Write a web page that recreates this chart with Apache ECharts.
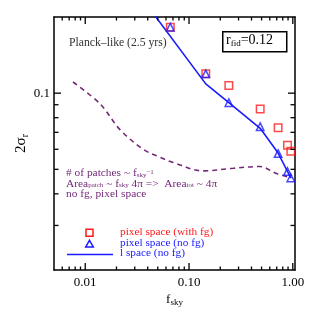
<!DOCTYPE html>
<html><head><meta charset="utf-8">
<script src="https://cdn.jsdelivr.net/npm/echarts@6/dist/echarts.min.js"></script>
<style>html,body{margin:0;padding:0;background:#fff}#c{width:312px;height:312px}</style>
</head><body><div id="c"></div>
<script>
// ---- data ----
const fsky      = [0.066, 0.145, 0.242, 0.485, 0.722, 0.889, 0.957];
const pixWithFg = [0.1823, 0.1192, 0.1071, 0.0866, 0.0730, 0.0623, 0.0590];
const pixNoFg   = [0.1823, 0.1192, 0.0917, 0.0737, 0.0577, 0.0490, 0.0462];
const lspaceF   = [0.040, 0.145, 0.242, 0.485, 0.722, 0.957];
const lspaceV   = [0.221, 0.1088, 0.0917, 0.0726, 0.0580, 0.0462];
const patchF    = [0.00762, 0.01394, 0.0217, 0.0364, 0.0489, 0.0706, 0.1372, 0.2667, 0.482, 0.697, 0.972];
const patchV    = [0.1107, 0.0906, 0.0716, 0.0599, 0.0565, 0.0532, 0.0493, 0.0505, 0.0513, 0.0481, 0.0463];
const xMajor = [0.01, 0.1, 1];
const xMinor = [0.006,0.007,0.008,0.009,0.02,0.03,0.04,0.05,0.06,0.07,0.08,0.09,0.2,0.3,0.4,0.5,0.6,0.7,0.8,0.9];
const yMajor = [0.1];
const yMinor = [0.03,0.04,0.05,0.06,0.07,0.08,0.09];
const seriesNames = ['pixel space (with fg)', 'pixel space (no fg)', 'l space (no fg)'];

const FONT = 'Liberation Serif';
const RED = '#ff1a1a', BLUE = '#1a1aff', PURPLE = '#742878';
const X_MIN = 0.005, X_MAX = 1.05, Y_MIN = 0.02, Y_MAX = 0.2;
const zip = (a, b) => a.map((v, i) => [v, b[i]]);

const xAxis = {
  type: 'log', logBase: 10, min: X_MIN, max: X_MAX, position: 'bottom',
  axisLine: {show: true, onZero: false, lineStyle: {color: '#000', width: 1.5}},
  axisTick: {show: false},
  axisLabel: {show: true, customValues: xMajor, margin: 6, color: '#000', fontFamily: FONT, fontSize: 13,
    formatter: v => (+v).toFixed(2)},
  splitLine: {show: false},
  name: '{a|f}{s|sky}', nameLocation: 'middle', nameGap: 22, nameMoveOverlap: false,
  nameTextStyle: {fontFamily: FONT, color: '#000', rich: {
    a: {fontFamily: FONT, fontSize: 13, color: '#000', lineHeight: 15},
    s: {fontFamily: FONT, fontSize: 9, color: '#000', lineHeight: 9, verticalAlign: 'bottom'}}}
};
const yAxis = {
  type: 'log', logBase: 10, min: Y_MIN, max: Y_MAX, position: 'left',
  axisLine: {show: true, onZero: false, lineStyle: {color: '#000', width: 1.5}},
  axisTick: {show: false},
  axisLabel: {show: true, customValues: yMajor, margin: 4, padding: [4, 0, 0, 0], color: '#000', fontFamily: FONT, fontSize: 13,
    formatter: v => String(+(+v).toFixed(2))},
  splitLine: {show: false},
  name: '{a|2σ}{s|r}', nameLocation: 'middle', nameGap: 24, nameMoveOverlap: false,
  nameTextStyle: {fontFamily: FONT, color: '#000', rich: {
    a: {fontFamily: FONT, fontSize: 15, color: '#000', lineHeight: 17},
    s: {fontFamily: FONT, fontSize: 10, color: '#000', lineHeight: 10, verticalAlign: 'bottom'}}}
};
const xTop = {type: 'log', logBase: 10, min: X_MIN, max: X_MAX, position: 'top',
  axisLine: {show: true, onZero: false, lineStyle: {color: '#000', width: 1.5}},
  axisTick: {show: false}, axisLabel: {show: false}, splitLine: {show: false}};
const yRight = {type: 'log', logBase: 10, min: Y_MIN, max: Y_MAX, position: 'right',
  axisLine: {show: true, onZero: false, lineStyle: {color: '#000', width: 1.5}},
  axisTick: {show: false}, axisLabel: {show: false}, splitLine: {show: false}};

// tick marks placed through the axis scales, drawn as thin inward rect symbols
function xTickItems(vals, L) {
  const out = [];
  vals.forEach(v => {
    out.push({value: [v, Y_MIN], symbolSize: [1.3, L], symbolOffset: [0, -L / 2]});
    out.push({value: [v, Y_MAX], symbolSize: [1.3, L], symbolOffset: [0, L / 2]});
  });
  return out;
}
function yTickItems(vals, L) {
  const out = [];
  vals.forEach(v => {
    out.push({value: [X_MIN, v], symbolSize: [L, 1.3], symbolOffset: [L / 2, 0]});
    out.push({value: [X_MAX, v], symbolSize: [L, 1.3], symbolOffset: [-L / 2, 0]});
  });
  return out;
}
const tickData = xTickItems(xMajor, 7).concat(xTickItems(xMinor, 3.5), yTickItems(yMajor, 7), yTickItems(yMinor, 4.5));

const chart = echarts.init(document.getElementById('c'), null, {renderer: 'canvas'});
chart.setOption({
  backgroundColor: '#fff',
  animation: false,
  grid: {left: 54, right: 17, top: 17, bottom: 35.5, containLabel: false},
  xAxis: [xAxis, xTop],
  yAxis: [yAxis, yRight],
  series: [
    {name: 'ticks', type: 'scatter', data: tickData, symbol: 'rect', clip: false, silent: true,
      itemStyle: {color: '#000', opacity: 1}, z: 10},
    {name: 'patches', type: 'line', data: zip(patchF, patchV), smooth: 0.35, symbol: 'none',
      lineStyle: {color: PURPLE, width: 1.6, type: [5, 4]}, itemStyle: {color: PURPLE}, z: 2},
    {name: seriesNames[2], type: 'line', data: zip(lspaceF, lspaceV), symbol: 'none', clip: true,
      lineStyle: {color: BLUE, width: 1.6}, itemStyle: {color: BLUE}, z: 3},
    {name: seriesNames[0], type: 'scatter', data: zip(fsky, pixWithFg), symbol: 'rect', symbolSize: 7.5,
      itemStyle: {color: 'transparent', borderColor: RED, borderWidth: 1.5}, z: 4},
    {name: seriesNames[1], type: 'scatter', data: zip(fsky, pixNoFg), symbol: 'triangle', symbolSize: 7.5,
      itemStyle: {color: 'transparent', borderColor: BLUE, borderWidth: 1.5}, z: 5}
  ],
  graphic: [
    {type: 'text', left: 69, top: 36.5, style: {text: 'Planck–like (2.5 yrs)', fill: '#333', font: '11.7px ' + FONT}},
    {type: 'rect', left: 222, top: 31, shape: {width: 64, height: 20}, style: {fill: '#fff', stroke: '#000', lineWidth: 1.5}},
    {type: 'text', left: 226, top: 33, style: {
      text: '{t|r}{sb|fid}{t|=0.12}',
      rich: {
        t: {fontFamily: FONT, fontSize: 14, fill: '#000', lineHeight: 16},
        sb: {fontFamily: FONT, fontSize: 9, fill: '#000', lineHeight: 10, verticalAlign: 'bottom'}
      }}},
    {type: 'text', left: 66, top: 168, style: {
      text: '{t|# of patches ~ f}{sb|sky}{sp|−1}\n{t|Area}{sb|patch}{t| ~ f}{sb|sky}{t| 4π =>  Area}{sb|tot}{t| ~ 4π}\n{t|no fg, pixel space}',
      rich: {
        t: {fontFamily: FONT, fontSize: 11.4, fill: PURPLE, lineHeight: 10.3},
        sb: {fontFamily: FONT, fontSize: 7, fill: PURPLE, lineHeight: 6, verticalAlign: 'bottom'},
        sp: {fontFamily: FONT, fontSize: 7, fill: PURPLE, lineHeight: 6, verticalAlign: 'top'}
      }}},
    // legend
    {type: 'rect', shape: {x: 86, y: 229.2, width: 7, height: 7}, style: {fill: 'transparent', stroke: RED, lineWidth: 1.5}},
    {type: 'polygon', shape: {points: [[89.5, 240.3], [93.3, 247], [85.7, 247]]}, style: {fill: 'transparent', stroke: BLUE, lineWidth: 1.5}},
    {type: 'line', shape: {x1: 67, y1: 254.5, x2: 113, y2: 254.5}, style: {stroke: BLUE, lineWidth: 1.6}},
    {type: 'text', left: 120, top: 226.5, style: {text: seriesNames[0], fill: RED, font: '11.3px ' + FONT}},
    {type: 'text', left: 120, top: 237.3, style: {text: seriesNames[1], fill: BLUE, font: '11.3px ' + FONT}},
    {type: 'text', left: 120, top: 248, style: {text: seriesNames[2], fill: BLUE, font: '11.3px ' + FONT}}
  ]
});
</script>
</body></html>
